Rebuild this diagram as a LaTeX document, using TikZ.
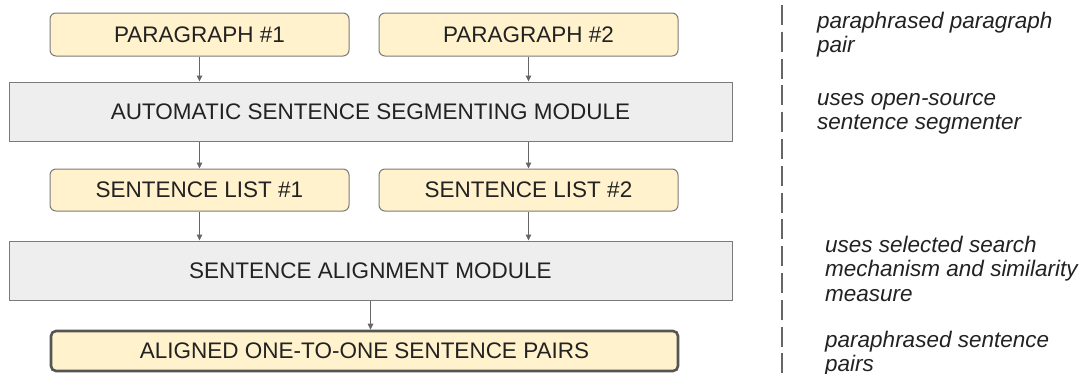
\documentclass[tikz,border=0pt]{standalone}
\usepackage{fontspec}
\setmainfont{Liberation Sans}
\usetikzlibrary{arrows.meta,calc}
\definecolor{ylfill}{HTML}{FFF2CC}
\definecolor{boxline}{HTML}{7A7A7A}
\definecolor{modfill}{HTML}{EEEEEE}
\definecolor{darkline}{HTML}{555555}
\definecolor{arr}{HTML}{666666}
\definecolor{txt}{HTML}{222222}
\definecolor{dash}{HTML}{666666}
\begin{document}
\begin{tikzpicture}[x=1pt,y=-1pt,
  every node/.style={font=\fontsize{22.5}{24.5}\selectfont, text=txt},
  ybox/.style={draw=boxline, line width=1pt, fill=ylfill, rounded corners=6pt, minimum width=299pt, minimum height=43pt, inner sep=0pt},
  modbox/.style={draw=boxline, line width=1pt, fill=modfill, minimum width=723pt, minimum height=59pt, inner sep=0pt},
  finalbox/.style={draw=darkline, line width=2.6pt, fill=ylfill, rounded corners=5pt, minimum width=627pt, minimum height=40pt, inner sep=0pt},
  flow/.style={draw=arr, line width=1pt, -{Triangle[length=6pt,width=5.5pt]}},
  note/.style={font=\fontsize{22.5}{24.5}\selectfont\itshape, align=left, inner sep=0pt, anchor=base west},
  sep/.style={draw=dash, line width=2.5pt, dash pattern=on 20pt off 6.8pt}
]
\useasboundingbox (0,0) rectangle (1083,373);
\node[ybox] (p1) at (199.5,34.5) {PARAGRAPH \#1};
\node[ybox] (p2) at (528.5,34.5) {PARAGRAPH \#2};
\node[modbox] (seg) at (370.5,111.5) {AUTOMATIC SENTENCE SEGMENTING MODULE};
\node[ybox, minimum height=42pt] (s1) at (199.5,190) {SENTENCE LIST \#1};
\node[ybox, minimum height=42pt] (s2) at (528.5,190) {SENTENCE LIST \#2};
\node[modbox] (al) at (370.5,270.5) {SENTENCE ALIGNMENT MODULE};
\node[finalbox] (fin) at (364.5,351) {ALIGNED ONE-TO-ONE SENTENCE PAIRS};

\draw[flow] (p1.south) -- (p1.south |- seg.north);
\draw[flow] (p2.south) -- (p2.south |- seg.north);
\draw[flow] (s1.south |- seg.south) -- (s1.north);
\draw[flow] (s2.south |- seg.south) -- (s2.north);
\draw[flow] (s1.south) -- (s1.south |- al.north);
\draw[flow] (s2.south) -- (s2.south |- al.north);
\draw[flow] (al.south) -- (al.south |- fin.north);

\coordinate (dtop) at (782,5);
\coordinate (dbot) at (782,373);
\draw[sep] (dtop) -- (dbot);

\node[note] (n1) at (817,52.5) {paraphrased paragraph\\pair};
\node[note] (n2) at (817,129.5) {uses open-source\\sentence segmenter};
\node[note] (n3) at (825,301) {uses selected search\\mechanism and similarity\\measure};
\node[note] (n4) at (825,371.5) {paraphrased sentence\\pairs};
\end{tikzpicture}
\end{document}
